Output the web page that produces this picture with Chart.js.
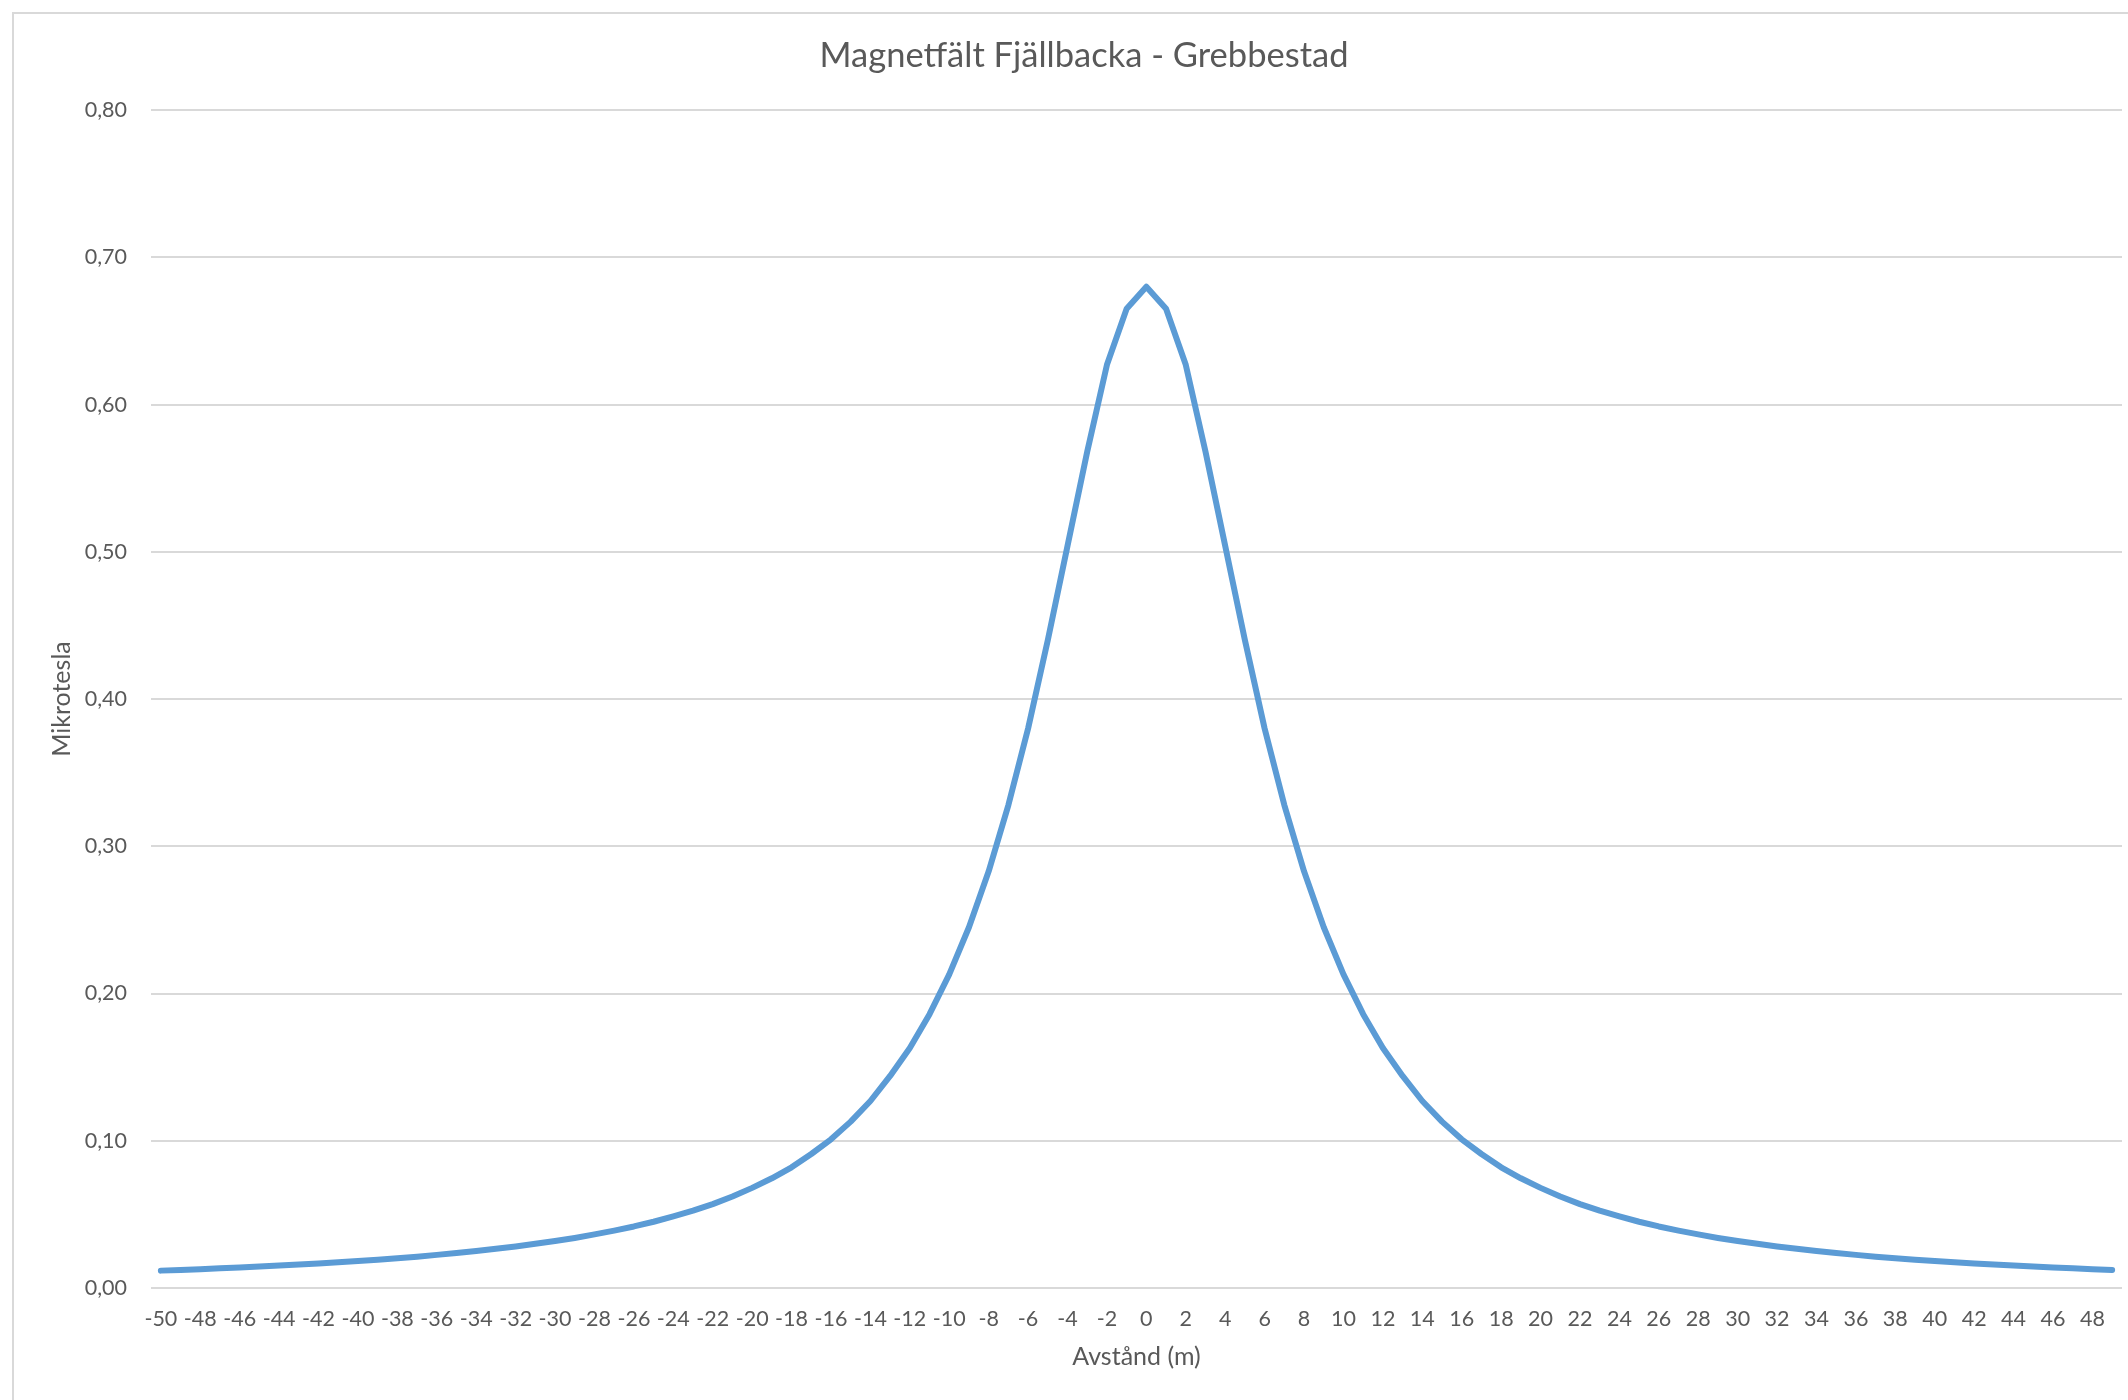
<!DOCTYPE html>
<html>
<head>
<meta charset="utf-8">
<script src="https://cdn.jsdelivr.net/npm/chart.js@4/dist/chart.umd.min.js"></script>
<style>
  html, body { margin: 0; padding: 0; background: #ffffff; overflow: hidden; width: 2128px; height: 1400px; }
  #frame { position: absolute; left: 12px; top: 12px; width: 2140px; height: 1400px;
           border-left: 2px solid #d9d9d9; border-top: 2px solid #d9d9d9; background: #fff; }
  canvas { display: block; }
</style>
</head>
<body>
<div id="frame"><canvas id="c" width="2140" height="1386"></canvas></div>
<script>
const chartTitle = "Magnetfält Fjällbacka - Grebbestad";
const xAxisTitle = "Avstånd (m)";
const yAxisTitle = "Mikrotesla";

const distances = [
  -50,-49,-48,-47,-46,-45,-44,-43,-42,-41,
  -40,-39,-38,-37,-36,-35,-34,-33,-32,-31,
  -30,-29,-28,-27,-26,-25,-24,-23,-22,-21,
  -20,-19,-18,-17,-16,-15,-14,-13,-12,-11,
  -10,-9,-8,-7,-6,-5,-4,-3,-2,-1,
  0,1,2,3,4,5,6,7,8,9,
  10,11,12,13,14,15,16,17,18,19,
  20,21,22,23,24,25,26,27,28,29,
  30,31,32,33,34,35,36,37,38,39,
  40,41,42,43,44,45,46,47,48,49
];

const microtesla = [
  0.0118, 0.0123, 0.0128, 0.0134, 0.0139, 0.0146, 0.0152, 0.0159, 0.0167, 0.0175,
  0.0183, 0.0192, 0.0202, 0.0213, 0.0225, 0.0237, 0.0251, 0.0266, 0.0282, 0.0300,
  0.0319, 0.0340, 0.0364, 0.0390, 0.0418, 0.0450, 0.0486, 0.0525, 0.0570, 0.0621,
  0.0680, 0.0745, 0.0820, 0.0910, 0.1010, 0.1130, 0.1270, 0.1440, 0.1630, 0.1860,
  0.2130, 0.2450, 0.2830, 0.3280, 0.3800, 0.4400, 0.5040, 0.5680, 0.6270, 0.6650,
  0.6800,
  0.6650, 0.6270, 0.5680, 0.5040, 0.4400, 0.3800, 0.3280, 0.2830, 0.2450, 0.2130,
  0.1860, 0.1630, 0.1440, 0.1270, 0.1130, 0.1010, 0.0910, 0.0820, 0.0745, 0.0680,
  0.0621, 0.0570, 0.0525, 0.0486, 0.0450, 0.0418, 0.0390, 0.0364, 0.0340, 0.0319,
  0.0300, 0.0282, 0.0266, 0.0251, 0.0237, 0.0225, 0.0213, 0.0202, 0.0192, 0.0183,
  0.0175, 0.0167, 0.0159, 0.0152, 0.0146, 0.0139, 0.0134, 0.0128, 0.0123
];

const yMin = 0, yMax = 0.8, yStep = 0.1;
const xLabelEvery = 2;

const FONT = "Lato, 'Open Sans', 'DejaVu Sans', sans-serif";
const TEXT = "#595959";
const GRID = "#d9d9d9";

new Chart(document.getElementById('c'), {
  type: 'line',
  data: {
    labels: distances,
    datasets: [{
      label: yAxisTitle,
      data: microtesla,
      borderColor: '#5b9bd5',
      backgroundColor: '#5b9bd5',
      borderWidth: 6,
      borderCapStyle: 'round',
      borderJoinStyle: 'round',
      pointRadius: 0,
      pointHoverRadius: 0,
      tension: 0,
      fill: false
    }]
  },
  options: {
    responsive: false,
    animation: false,
    devicePixelRatio: 1,
    layout: { padding: { left: 32, right: 32, top: 0, bottom: 0 } },
    plugins: {
      legend: { display: false },
      tooltip: { enabled: false },
      title: {
        display: true,
        text: chartTitle,
        color: TEXT,
        font: { family: FONT, size: 34.5, weight: 'normal', lineHeight: 1.2 },
        padding: { top: 21, bottom: 33.7 }
      }
    },
    scales: {
      x: {
        type: 'category',
        offset: true,
        grid: { display: false, drawTicks: false },
        border: { display: false },
        ticks: {
          autoSkip: false,
          maxRotation: 0,
          minRotation: 0,
          padding: 18,
          color: TEXT,
          font: { family: FONT, size: 21.5 },
          callback: function(value, index) {
            return index % xLabelEvery === 0 ? String(distances[index]) : '';
          }
        },
        title: {
          display: true,
          text: xAxisTitle,
          color: TEXT,
          font: { family: FONT, size: 25 },
          padding: { top: 6, bottom: 28 }
        },
        afterFit: function(scale) { scale.height = 112; }
      },
      y: {
        min: yMin,
        max: yMax,
        grid: { color: GRID, lineWidth: 2, drawTicks: false },
        border: { display: false },
        ticks: {
          stepSize: yStep,
          padding: 24,
          color: TEXT,
          font: { family: FONT, size: 21.5 },
          callback: function(value) { return value.toFixed(2).replace('.', ','); }
        },
        title: {
          display: true,
          text: yAxisTitle,
          color: TEXT,
          font: { family: FONT, size: 25 },
          padding: { top: 1, bottom: 0 }
        },
        afterFit: function(scale) { scale.width = 105; }
      }
    }
  }
});
</script>
</body>
</html>
